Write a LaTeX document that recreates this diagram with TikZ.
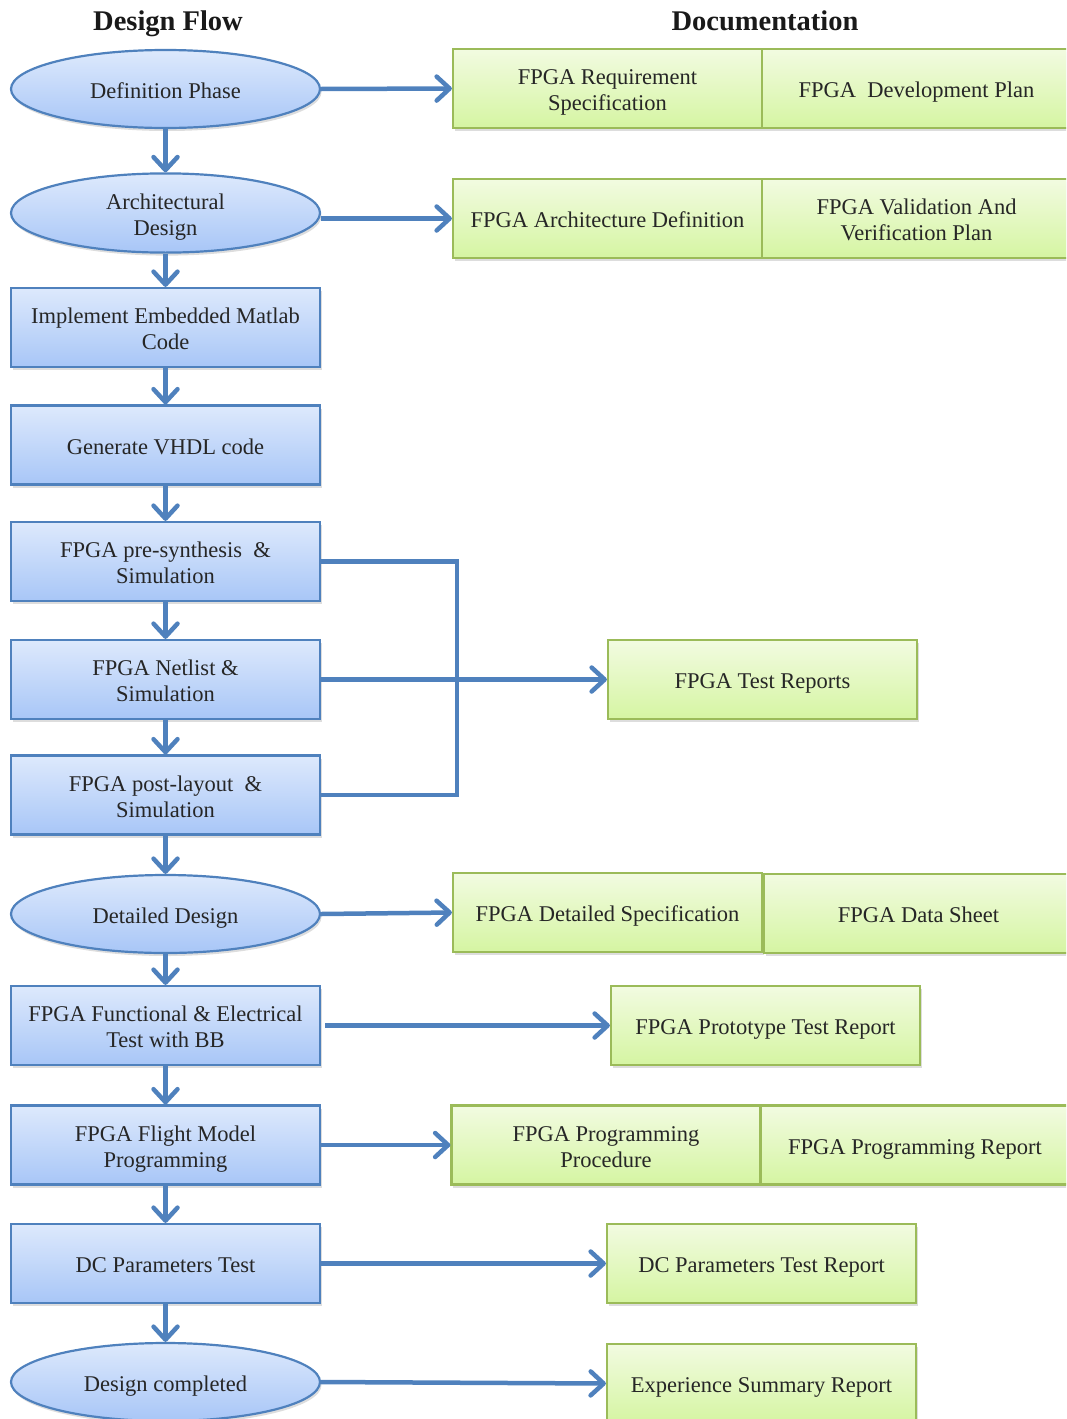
\documentclass[tikz,border=0pt]{standalone}
\usepackage{fontspec}
\setmainfont{Liberation Serif}
\usetikzlibrary{shapes.geometric,arrows.meta,shadows}

\definecolor{edgeblue}{HTML}{4F81BD}
\definecolor{bluetop}{HTML}{DDE9FC}
\definecolor{bluebot}{HTML}{A8C6F7}
\definecolor{edgegreen}{HTML}{9BBB59}
\definecolor{greentop}{HTML}{F2FBE1}
\definecolor{greenbot}{HTML}{D5F5A2}
\definecolor{linkblue}{HTML}{4F81BD}

\tikzset{
  soft shadow/.style={drop shadow={shadow xshift=1.5pt, shadow yshift=-3pt, opacity=0.22, fill=black!60}},
  % fixed text box sizes keep every label at the same height inside its shape
  bodyfont/.style={font=\fontsize{22.5}{26}\selectfont, text height=24pt, text depth=6pt},
  twolines/.style={text height=50pt, text depth=6pt},
  flowbox/.style={rectangle, draw=edgeblue, line width=2.2pt, top color=bluetop, bottom color=bluebot,
    minimum width=309pt, minimum height=79pt, inner sep=0pt, align=center, text=black!85, bodyfont, soft shadow},
  flowoval/.style={ellipse, draw=edgeblue, line width=2.2pt, top color=bluetop, bottom color=bluebot,
    minimum width=309pt, minimum height=78pt, inner sep=0pt, align=center, text=black!85, bodyfont, soft shadow},
  docbox/.style={rectangle, draw=edgegreen, line width=2.2pt, top color=greentop, bottom color=greenbot,
    minimum width=309pt, minimum height=79pt, inner sep=0pt, align=center, text=black!85, bodyfont, soft shadow},
  heading/.style={font=\fontsize{28.5}{32}\selectfont\bfseries, text=black!90, anchor=base},
  link/.style={draw=linkblue, line width=4.5pt, -{Straight Barb[length=13pt, width=24pt, line width=4.5pt, round]}},
  rail/.style={draw=linkblue, line width=4.5pt}
}

\begin{document}
\begin{tikzpicture}[x=1pt, y=-1pt]
  \useasboundingbox (0,0) rectangle (1066,1419);
  \clip (0,0) rectangle (1066,1419);

  % column headings
  \node[heading] (hflow) at (168,30.5) {Design Flow};
  \node[heading] (hdoc) at (765,30.5) {Documentation};

  % design flow column
  \node[flowoval] (def)  at (165.5,89)   {Definition Phase};
  \node[flowoval, twolines] (arch) at (165.5,213)  {Architectural\\Design};
  \node[flowbox, twolines]  (impl) at (165.5,327.5) {Implement Embedded Matlab\\Code};
  \node[flowbox]  (vhdl) at (165.5,445)  {Generate VHDL code};
  \node[flowbox, twolines]  (pre)  at (165.5,561.5) {FPGA pre-synthesis\ \ \&\\Simulation};
  \node[flowbox, twolines]  (net)  at (165.5,679.5) {FPGA Netlist \&\\Simulation};
  \node[flowbox, twolines]  (post) at (165.5,795)  {FPGA post-layout\ \ \&\\Simulation};
  \node[flowoval] (det)  at (165.5,914)  {Detailed Design};
  \node[flowbox, twolines]  (func) at (165.5,1025.5) {FPGA Functional \& Electrical\\Test with BB};
  \node[flowbox, twolines]  (flight) at (165.5,1145) {FPGA Flight Model\\Programming};
  \node[flowbox]  (dc)   at (165.5,1263.5) {DC Parameters Test};
  \node[flowoval] (done) at (165.5,1382) {Design completed};

  % documentation column
  \node[docbox, twolines] (req)   at (607.5,88.5)  {FPGA Requirement\\Specification};
  \node[docbox] (plan)  at (916.5,88.5)  {FPGA\ \ Development Plan};
  \node[docbox] (adef)  at (607.5,218.5) {FPGA Architecture Definition};
  \node[docbox, twolines] (vvp)   at (916.5,218.5) {FPGA Validation And\\Verification Plan};
  \node[docbox] (trep)  at (762.5,679.5) {FPGA Test Reports};
  \node[docbox] (dspec) at (607.5,912.5) {FPGA Detailed Specification};
  \node[docbox] (dsheet) at (918.5,913.5) {FPGA Data Sheet};
  \node[docbox] (proto) at (765.5,1025.5) {FPGA Prototype Test Report};
  \node[docbox, twolines] (proc)  at (606,1145)    {FPGA Programming\\Procedure};
  \node[docbox] (prep)  at (915,1145)    {FPGA Programming Report};
  \node[docbox] (dcrep) at (761.5,1263.5) {DC Parameters Test Report};
  \node[docbox] (exp)   at (761.5,1383.5) {Experience Summary Report};

  % flow arrows
  \foreach \a/\b in {def/arch, arch/impl, impl/vhdl, vhdl/pre, pre/net, net/post, post/det,
                     det/func, func/flight, flight/dc, dc/done}
    \draw[link] (\a.south) -- (\b.north);

  % documentation arrows
  \draw[link] (def.east) -- (req.west);
  \draw[link] (arch.east |- adef.west) -- (adef.west);
  \draw[link] (det.east) -- (dspec.west);
  \draw[link] ([xshift=4pt]func.east) -- (proto.west);
  \draw[link] (flight.east) -- (proc.west);
  \draw[link] (dc.east) -- (dcrep.west);
  \draw[link] (done.east) -- (exp.west);

  % simulation results gathered into the test reports
  \coordinate (railtop) at (457,561.5);
  \coordinate (railbot) at (457,795);
  \draw[rail, line cap=butt] (pre.east) -- (railtop) -- (railbot) -- (post.east);
  \draw[link] (net.east) -- (trep.west);
\end{tikzpicture}
\end{document}
